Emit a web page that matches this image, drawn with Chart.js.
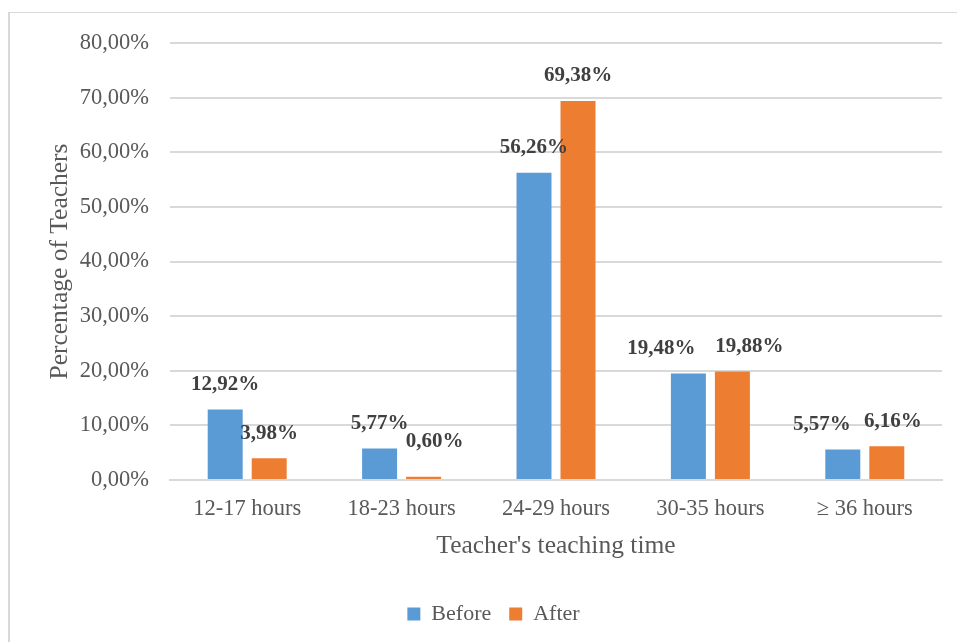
<!DOCTYPE html>
<html>
<head>
<meta charset="utf-8">
<script src="https://cdn.jsdelivr.net/npm/chart.js@4/dist/chart.umd.min.js"></script>
<style>
  html, body { margin: 0; padding: 0; background: #fff; }
  #wrap { position: relative; width: 957px; height: 642px; overflow: hidden; }
  #frame { position: absolute; left: 8px; top: 12px; width: 1000px; height: 700px;
           border-left: 2px solid #d9d9d9; border-top: 1px solid #d9d9d9; }
  #myChart { position: absolute; left: 0; top: 0; }
</style>
</head>
<body>
<div id="wrap">
  <div id="frame"></div>
  <canvas id="myChart" width="957" height="642"></canvas>
</div>
<script>
const categories = ["12-17 hours", "18-23 hours", "24-29 hours", "30-35 hours", "\u2265 36 hours"];
const beforeValues = [12.92, 5.77, 56.26, 19.48, 5.57];
const afterValues = [3.98, 0.6, 69.38, 19.88, 6.16];
const seriesNames = ["Before", "After"];

const FONT = "'Liberation Serif', 'Times New Roman', serif";

function pct(v) {
  return v.toFixed(2).replace(".", ",") + "%";
}

// draws the value on top of each bar, like Excel's "outside end" labels
// (a few labels were dragged by hand in the original, hence the nudges)
const barLabels = {
  id: "barLabels",
  afterDatasetsDraw(chart, args, opts) {
    const ctx = chart.ctx;
    ctx.save();
    ctx.font = "bold 21px " + FONT;
    ctx.fillStyle = "#404040";
    ctx.textAlign = "center";
    ctx.textBaseline = "middle";
    chart.data.datasets.forEach((ds, i) => {
      const nudge = opts.nudge[i] || [];
      chart.getDatasetMeta(i).data.forEach((bar, j) => {
        const [dx, dy] = nudge[j] || [0, 0];
        ctx.fillText(pct(ds.data[j]), bar.x + dx, bar.y - 25 + dy);
      });
    });
    ctx.restore();
  },
};

let chart = document.getElementById("myChart").getContext("2d");

let barChart = new Chart(chart, {
  type: "bar",
  data: {
    labels: categories,
    datasets: [
      {
        label: seriesNames[0],
        data: beforeValues,
        backgroundColor: "#5B9BD5",
        categoryPercentage: 0.57,
        barPercentage: 0.795,
      },
      {
        label: seriesNames[1],
        data: afterValues,
        backgroundColor: "#ED7D31",
        categoryPercentage: 0.57,
        barPercentage: 0.795,
      },
    ],
  },
  options: {
    responsive: false,
    animation: false,
    layout: { padding: { top: 43, right: 15, bottom: 7, left: 45 } },
    plugins: {
      legend: {
        position: "bottom",
        labels: {
          font: { family: FONT, size: 22 },
          color: "#595959",
          boxWidth: 13,
          boxHeight: 13,
          padding: 18,
        },
      },
      tooltip: { enabled: false },
      barLabels: {
        nudge: {
          0: [[0, 0], [0, 0], [0, 0], [-27, 0], [-21, 0]],
          1: [[0, 0], [11, -10], [0, 0], [17, 0], [6, 0]],
        },
      },
    },
    scales: {
      y: {
        min: 0,
        max: 80,
        ticks: {
          stepSize: 10,
          padding: 21,
          color: "#595959",
          font: { family: FONT, size: 22.5 },
          callback: (v) => pct(v),
        },
        grid: { color: "#d9d9d9", lineWidth: 2, drawTicks: false },
        border: { display: false },
        title: {
          display: true,
          text: "Percentage of Teachers",
          color: "#595959",
          font: { family: FONT, size: 25.5 },
          padding: { top: 0, bottom: 0 },
        },
        afterFit(scale) { scale.width = 125; },
      },
      x: {
        ticks: {
          color: "#595959",
          font: { family: FONT, size: 22.5 },
          padding: 16,
        },
        grid: { display: false, drawTicks: false },
        border: { color: "#d9d9d9", width: 2 },
        title: {
          display: true,
          text: "Teacher's teaching time",
          color: "#595959",
          font: { family: FONT, size: 25.5 },
          padding: { top: 0, bottom: 23 },
        },
        afterFit(scale) { scale.height = 105; },
      },
    },
  },
  plugins: [barLabels],
});
</script>
</body>
</html>
